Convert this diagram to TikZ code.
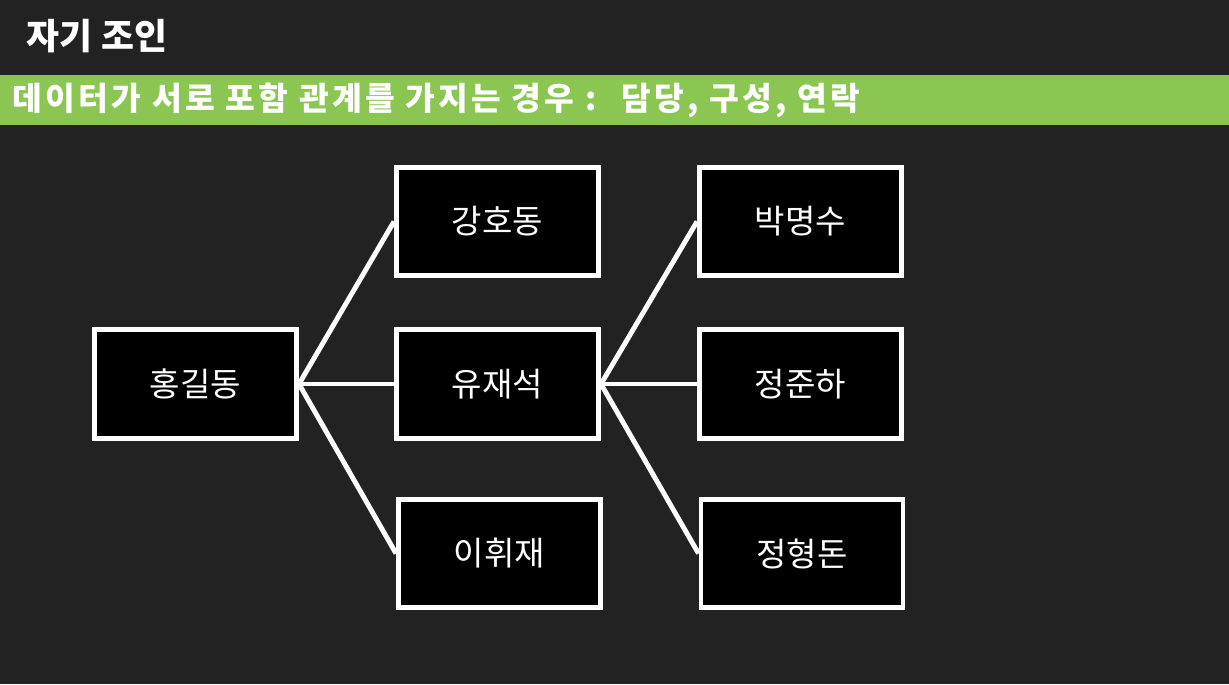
\documentclass[tikz,border=0pt]{standalone}
\usepackage{fontspec}
\setmainfont{Noto Sans CJK KR}
\usetikzlibrary{positioning}
\definecolor{bgdark}{RGB}{34,34,34}
\definecolor{bandgreen}{RGB}{139,198,83}

\begin{document}
\begin{tikzpicture}[x=0.025cm,y=-0.025cm,
	person/.style={draw=white,fill=black,line width=3.5pt,minimum width=5.05cm,minimum height=2.72cm,text=white,font=\fontsize{23.5}{27}\selectfont},
	link/.style={draw=white,line width=3.5pt}]
		%Background
		\fill[bgdark] (0,0) rectangle (1229,684);
		\useasboundingbox (0,0) rectangle (1229,684);
		\fill[bandgreen] (0,75) rectangle (1229,125);
		%Titles
		\node[anchor=west,text=white,font=\bfseries\fontsize{25.5}{29}\selectfont] (title) at (22,36) {자기 조인};
		\node[anchor=west,text=white,font=\bfseries\fontsize{23}{27}\selectfont\addfontfeatures{LetterSpace=10}] (subtitle) at (8,100) {데이터가 서로 포함 관계를 가지는 경우 :~ 담당, 구성, 연락};
		%Boxes
		\node[person] (hong) at (195.5,384) {홍길동};
		\node[person] (kang) at (497.5,221.5) {강호동};
		\node[person] (yoo) at (497.5,384) {유재석};
		\node[person] (lee) at (499.5,553.5) {이휘재};
		\node[person] (park) at (800.5,221.5) {박명수};
		\node[person] (jung) at (800.5,384) {정준하};
		\node[person] (hyung) at (802,553.5) {정형돈};
		%Links
		\foreach \a/\b in {hong/kang,hong/yoo,hong/lee,yoo/park,yoo/jung,yoo/hyung}
			\draw[link] (\a.east) -- (\b.west);
		\end{tikzpicture}
\end{document}
